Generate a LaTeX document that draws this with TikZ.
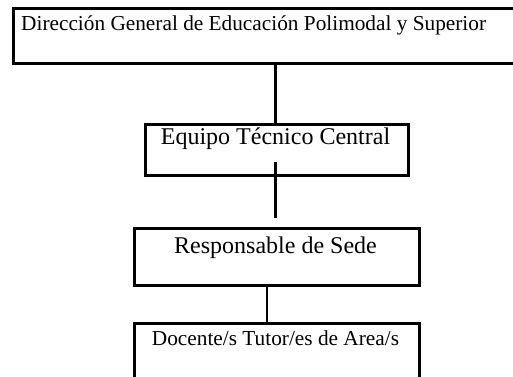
\documentclass[tikz,border=0pt]{standalone}
\usepackage{fontspec}
\setmainfont{Liberation Serif}
\begin{document}
\begin{tikzpicture}[x=1pt,y=-1pt,
  box/.style={draw=black,line width=2.5pt,rectangle,inner sep=0pt,anchor=north west},
  conn/.style={draw=black,line width=2.5pt},
  txt/.style={inner sep=0pt,font=\fontsize{21.3}{24}\selectfont}]
\useasboundingbox (0,0) rectangle (513,376);
\begin{scope}
\clip (0,0) rectangle (513,376);
\node[box,minimum width=505pt,minimum height=55pt] (b1) at (12,7) {};
\node[box,minimum width=263pt,minimum height=51pt] (b2) at (144,123) {};
\node[box,minimum width=285pt,minimum height=57pt] (b3) at (133,227) {};
\node[box,minimum width=285pt,minimum height=70pt] (b4) at (133,322) {};
\end{scope}
\node[txt,anchor=base west] (t1) at (21,30) {Dirección General de Educación Polimodal y Superior};
\node[txt,anchor=base,font=\fontsize{24}{28}\selectfont] (t2) at (275.5,144) {Equipo Técnico Central};
\node[txt,anchor=base,font=\fontsize{24}{28}\selectfont] (t3) at (275.5,253) {Responsable de Sede};
\node[txt,anchor=base] (t4) at (275.5,345) {Docente/s Tutor/es de Area/s};
\coordinate (c1a) at (275.5,62);
\coordinate (c1b) at (275.5,123);
\coordinate (c2a) at (275.5,162);
\coordinate (c2b) at (275.5,218);
\coordinate (c3a) at (267,284);
\coordinate (c3b) at (267,322);
\draw[conn] (c1a) -- (c1b);
\draw[conn] (c2a) -- (c2b);
\draw[conn] (c3a) -- (c3b);
\end{tikzpicture}
\end{document}
